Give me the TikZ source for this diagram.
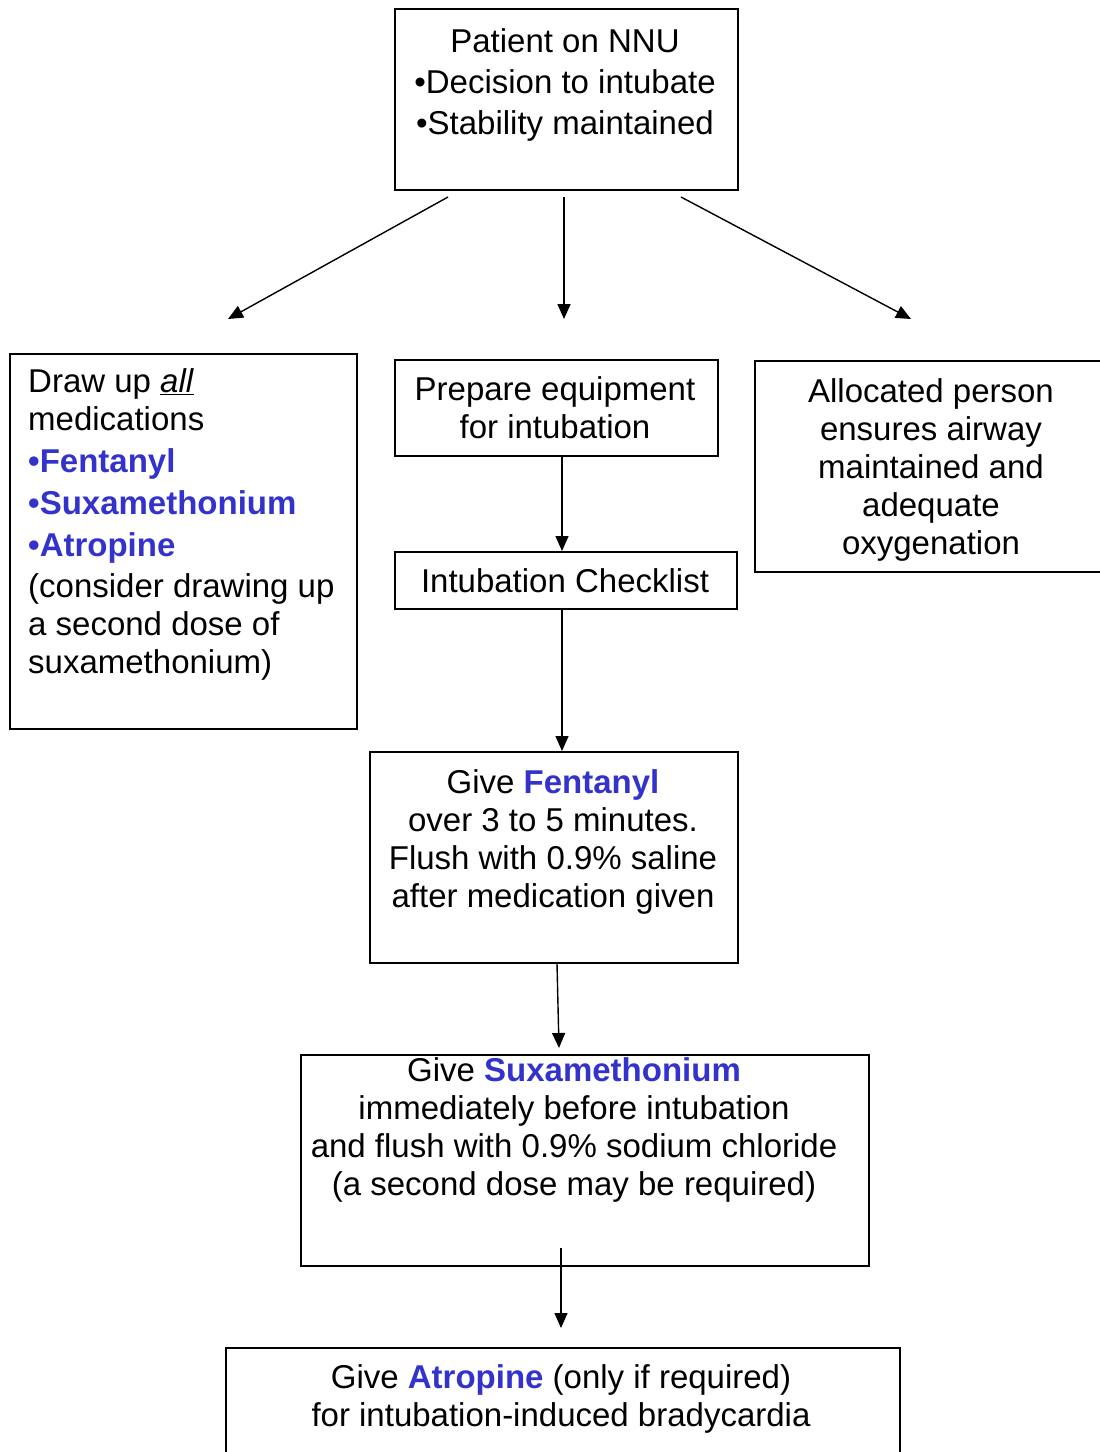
\documentclass[tikz,border=0pt]{standalone}
\usepackage{fontspec}
\setmainfont{Liberation Sans}
\usetikzlibrary{arrows.meta}
\definecolor{drugblue}{RGB}{51,51,204}
\newcommand{\drug}[1]{\textcolor{drugblue}{\textbf{#1}}}
\tikzset{
 box/.style={draw,line width=1.5pt,anchor=north west,inner sep=0pt},
 txt/.style={align=center,anchor=base,inner sep=0pt,font=\fontsize{33}{38}\selectfont},
 arrow/.style={-{Triangle[length=15pt,width=13pt]},line width=1.4pt}
}

\begin{document}
\begin{tikzpicture}[x=1pt,y=-1pt]
\useasboundingbox (0,0) rectangle (1100,1452);
\clip (0,0) rectangle (1100,1452);
% boxes
\node[box,minimum width=343pt,minimum height=181pt] (patient) at (394,8) {};
\node[box,minimum width=347pt,minimum height=375pt] (drawup) at (9,353) {};
\node[box,minimum width=323pt,minimum height=96pt] (prep) at (394,359) {};
\node[box,minimum width=342pt,minimum height=57pt] (check) at (394,551) {};
\node[box,minimum width=400pt,minimum height=211pt] (alloc) at (754,360) {};
\node[box,minimum width=368pt,minimum height=211pt] (fent) at (369,751) {};
\node[box,minimum width=568pt,minimum height=211pt] (suxa) at (300,1054) {};
\node[box,minimum width=674pt,minimum height=150pt] (atro) at (225,1347) {};
% texts (base = last line)
\node[txt,font=\fontsize{33}{41}\selectfont] (patient-txt) at (565,134)
 {Patient on NNU\\ •Decision to intubate\\ •Stability maintained};
\node[txt,align=left,anchor=base west] (drawup-txt) at (28,673)
 {Draw up \underline{\textit{all}}\\ medications\\[4pt] \drug{•Fentanyl}\\[4pt]
  \drug{•Suxamethonium}\\[4pt] \drug{•Atropine}\\[3pt] (consider drawing up\\
  a second dose of\\ suxamethonium)};
\node[txt] (prep-txt) at (555,438) {Prepare equipment\\ for intubation};
\node[txt] (check-txt) at (565,592) {Intubation Checklist};
\node[txt] (alloc-txt) at (931,554)
 {Allocated person\\ ensures airway\\ maintained and\\ adequate\\ oxygenation};
\node[txt] (fent-txt) at (553,907)
 {Give \drug{Fentanyl}\\ over 3 to 5 minutes.\\ Flush with 0.9\% saline\\ after medication given};
\node[txt] (suxa-txt) at (574,1195)
 {Give \drug{Suxamethonium}\\ immediately before intubation\\
  and flush with 0.9\% sodium chloride\\ (a second dose may be required)};
\node[txt] (atro-txt) at (561,1426)
 {Give \drug{Atropine} (only if required)\\ for intubation-induced bradycardia};
% free arrow ends
\coordinate (split-l) at (448,197);
\coordinate (split-m) at (564,197);
\coordinate (split-r) at (681,197);
\coordinate (to-l) at (228,319);
\coordinate (to-m) at (564,319);
\coordinate (to-r) at (911,319);
\coordinate (to-suxa) at (559,1048);
\coordinate (from-suxa) at (561,1248);
\coordinate (to-atro) at (561,1328);
% arrows
\draw[arrow] (split-l) -- (to-l);
\draw[arrow] (split-m) -- (to-m);
\draw[arrow] (split-r) -- (to-r);
\draw[arrow] (prep.south -| 562,0) -- (check.north -| 562,0);
\draw[arrow] (check.south -| 562,0) -- (fent.north -| 562,0);
\draw[arrow] (fent.south -| 557,0) -- (to-suxa);
\draw[arrow] (from-suxa) -- (to-atro);
\end{tikzpicture}
\end{document}
